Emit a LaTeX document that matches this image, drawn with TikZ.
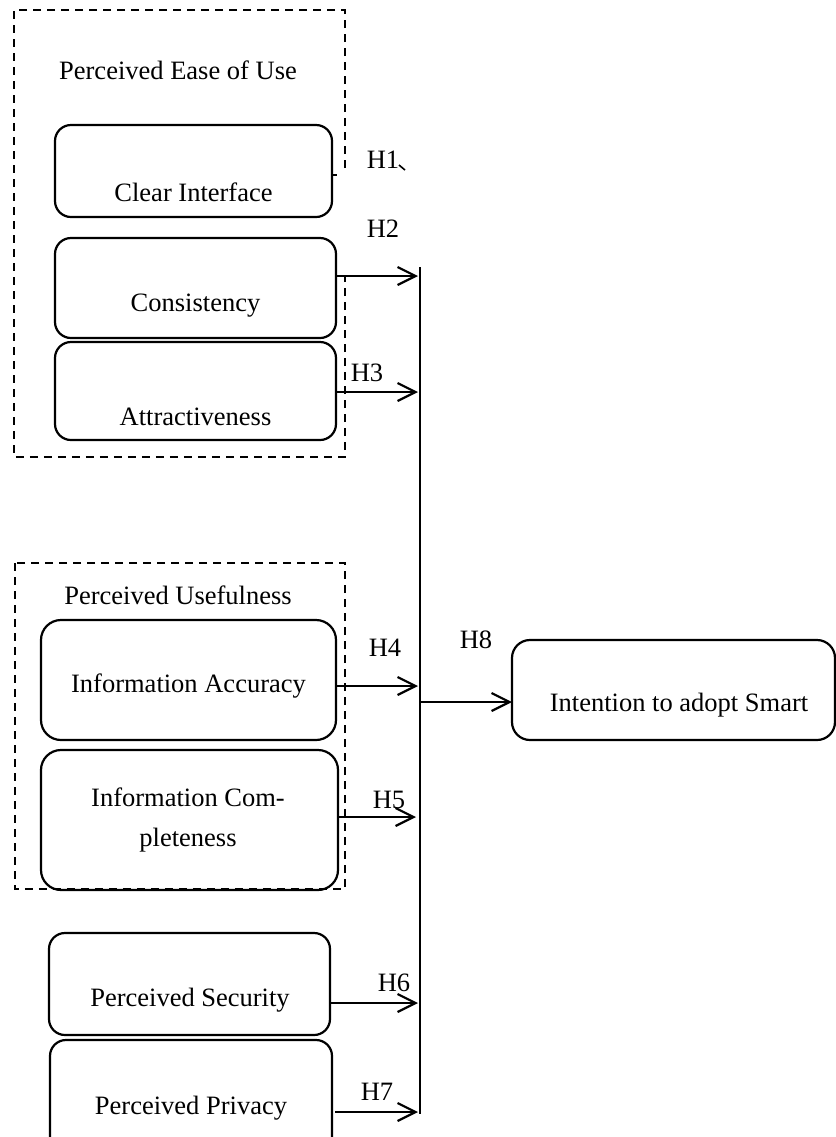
\documentclass[tikz,border=0pt]{standalone}
\usepackage{fontspec}
\setmainfont{Liberation Serif}
\usetikzlibrary{arrows.meta}
\begin{document}
\begin{tikzpicture}[x=0.5pt,y=-0.5pt,
  rbox/.style={draw, line width=1.1pt, rounded corners=8pt, inner sep=0pt, outer sep=0pt},
  txt/.style={inner sep=0pt, font=\fontsize{13.25}{16}\selectfont, align=center},
  grp/.style={draw, dashed, dash pattern=on 4pt off 3pt, line width=0.8pt},
  arr/.style={line width=1.1pt, -{Straight Barb[length=9pt,width=9pt,line width=1.1pt]}},
  ln/.style={line width=1.1pt}]
\useasboundingbox (0,0) rectangle (836,1137);
\clip (0,0) rectangle (836,1137);
% group 1
\draw[grp] (345,168) -- (345,10) -- (14,10) -- (14,457) -- (345,457) -- (345,275);
\node[txt] (peou) at (178,70) {Perceived Ease of Use};
\node[rbox, minimum width=138.5pt, minimum height=46pt] (ci) at (193.5,171) {};
\node[txt] (tci) at (193.5,192) {Clear Interface};
\node[rbox, minimum width=140.5pt, minimum height=50pt] (cons) at (195.5,288) {};
\node[txt] (tcons) at (195.5,306) {Consistency};
\node[rbox, minimum width=140.5pt, minimum height=49pt] (attr) at (195.5,391) {};
\node[txt] (tattr) at (195.5,417) {Attractiveness};
% group 2
\draw[grp] (15,563) rectangle (345,889);
\node[txt] (pu) at (178,595) {Perceived Usefulness};
\node[rbox, rounded corners=10pt, minimum width=147.5pt, minimum height=60pt] (ia) at (188.5,680) {};
\node[txt] (tia) at (188.5,686) {Information Accuracy};
\node[rbox, rounded corners=10pt, minimum width=148.5pt, minimum height=70pt] (ic) at (189.5,820) {};
\node[txt] (tic) at (188,820) {Information Com-\\[4pt]pleteness};
% others
\node[rbox, minimum width=140.5pt, minimum height=51pt] (ps) at (189.5,984) {};
\node[txt] (tps) at (190,1000) {Perceived Security};
\node[rbox, minimum width=141pt, minimum height=60pt] (pp) at (191,1100) {};
\node[txt] (tpp) at (191,1108) {Perceived Privacy};
\node[rbox, rounded corners=9pt, minimum width=161.5pt, minimum height=50pt] (ita) at (673.5,690) {};
\node[txt] (tita) at (679,705) {Intention to adopt Smart};
% bus
\coordinate (bustop) at (420,267);
\coordinate (busbot) at (420,1114);
\coordinate (busmid) at (420,702);
\draw[ln] (bustop) -- (busbot);
% arrows
\coordinate (e2) at (418,276);
\coordinate (e3) at (418,392);
\coordinate (e4) at (418,686);
\coordinate (e5) at (416,817);
\coordinate (e6) at (418,1003);
\coordinate (e7) at (418,1112);
\draw[arr] (cons.east |- e2) -- (e2);
\draw[arr] (attr.east |- e3) -- (e3);
\draw[arr] (ia.east |- e4) -- (e4);
\draw[arr] (ic.east |- e5) -- (e5);
\draw[arr] (ps.east |- e6) -- (e6);
\draw[arr] ([xshift=1.5pt]pp.east |- e7) -- (e7);
\draw[arr] (busmid) -- (ita.west |- busmid);
% broken H1 connector
\coordinate (h1a) at (337,175);
\draw[ln] (ci.east |- h1a) -- (h1a);
\coordinate (h1b) at (399,165);
\coordinate (h1c) at (405,170);
\draw[line width=0.8pt] (h1b) -- (h1c);
% labels
\node[txt] (H1) at (383,160) {H1};
\node[txt] (H2) at (383,229) {H2};
\node[txt] (H3) at (367,373) {H3};
\node[txt] (H4) at (385,648) {H4};
\node[txt] (H5) at (389,800) {H5};
\node[txt] (H6) at (394,983) {H6};
\node[txt] (H7) at (377,1092) {H7};
\node[txt] (H8) at (476,640) {H8};
\end{tikzpicture}
\end{document}
